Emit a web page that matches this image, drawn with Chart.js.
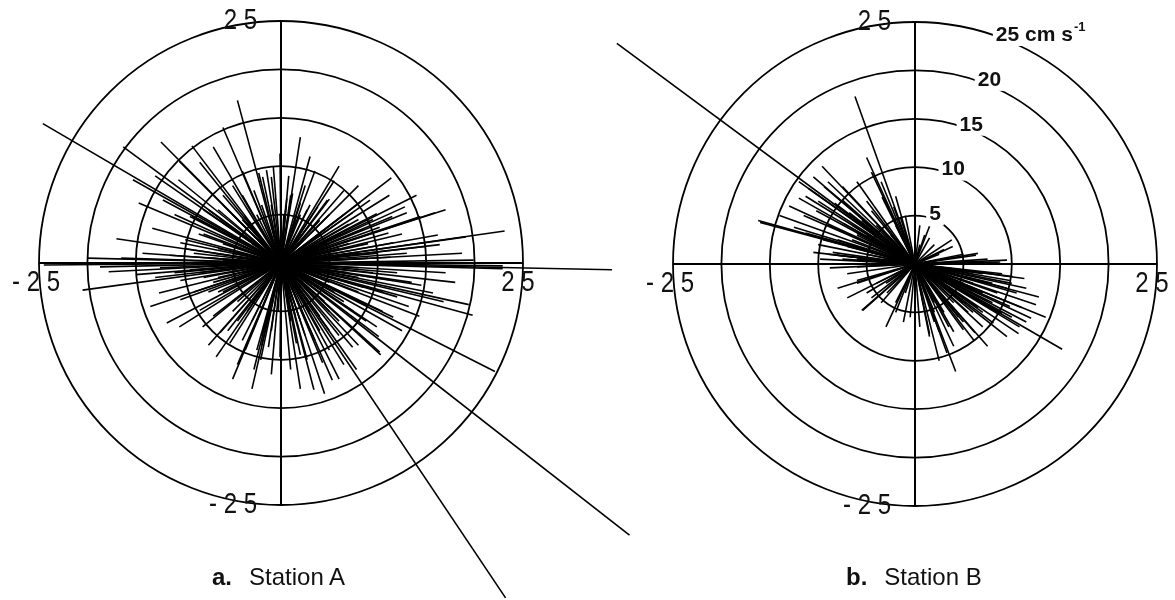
<!DOCTYPE html>
<html>
<head>
<meta charset="utf-8">
<script src="https://cdn.jsdelivr.net/npm/chart.js@4.4.1/dist/chart.umd.min.js"></script>
<style>
  html, body { margin: 0; padding: 0; background: #fff; }
  #wrap { position: relative; width: 1175px; height: 600px; overflow: hidden; }
  canvas { position: absolute; top: 0; }
  #chartA { left: 0; }
  #chartB { left: 590px; }
  .caption { position: absolute; top: 565px; font: 24px "Liberation Sans", Arial, sans-serif; line-height: 24px; color: #111; white-space: nowrap; }
  .caption b { margin-right: 17px; }
</style>
</head>
<body>
<div id="wrap">
  <canvas id="chartA" width="650" height="600"></canvas>
  <canvas id="chartB" width="585" height="600"></canvas>
  <div class="caption" style="left:212px"><b>a.</b>Station A</div>
  <div class="caption" style="left:846px"><b>b.</b>Station B</div>
</div>
<script>
// --- rings and labels ---
const rings = [5, 10, 15, 20, 25];
const ringLabels = ['5', '10', '15', '20', '25'];
const ringUnit = ' cm s';
const ringUnitExp = '-1';
const axisMax = 25;
const axisLabelPos = '2 5';
const axisLabelNeg = '- 2 5';

// --- current vectors [east, north] in cm/s ---
const stationA = [
  [-24.6, 14.4], [34.2, -0.7], [23.2, -34.6], [36.0, -28.1], [22.1, -11.2], [-4.5, 16.8],
  [-16.3, 12.0], [-12.4, 12.5], [-9.2, 12.1], [-8.4, 10.4], [-0.1, 11.3], [11.4, 8.8],
  [11.2, 7.0], [8.2, 6.3], [15.9, 5.2], [23.1, 3.3], [14.4, 4.8], [12.8, 5.8],
  [19.1, 2.7], [16.2, 2.9], [5.0, 6.6], [3.8, 5.8], [1.2, 7.2], [-1.0, 8.9],
  [-1.5, 9.6], [-2.3, 9.3], [9.9, 5.1], [11.5, 4.8], [22.9, -0.3], [22.9, -0.6],
  [18.7, 1.0], [16.4, 1.9], [-14.7, 6.2], [-13.3, 3.6], [-15.3, 8.6], [-14.3, 1.0],
  [-24.5, -0.2], [-18.7, -0.4], [-9.9, 2.4], [-9.2, 4.8], [-10.6, 8.6], [-20.5, -2.8],
  [19.8, -5.4], [19.4, -4.3], [14.3, -5.5], [10.3, -9.5], [10.1, -7.6], [7.8, -11.0],
  [5.3, -12.1], [3.4, -13.1], [0, -8.1], [-6.7, -9.7], [-11.8, -6.2], [-10.5, -6.6],
  [-3.7, -9.0], [-2.1, -10.0], [-12.6, -3.1], [15.7, -3.1], [-12.2, 6.5], [-3.8, 4.8],
  [9.2, 6.5], [13.0, 5.2], [11.1, 3.1], [14.9, 1.7], [19.9, 0.3],
  [-6.3, -7.2], [-8.1, -6.6], [-5.3, -8.3], [-2.5, -9.0], [-1.3, -8.7], [-0.1, -9.7],
  [1.6, -8.3], [2.7, -10.0], [4.3, -10.3], [7.4, -8.7], [10.2, -9.2], [9.9, -6.6],
  [11.6, -5.6], [12.0, -3.5], [11.6, -1.8], [-10.4, -1.8], [-10.4, -3.8], [-8.4, -4.9],
  [-9.4, -0.7], [0.6, 6.7], [2.0, 6.2], [4.8, 6.5], [-1.9, 8.9], [-3.5, 4.1],
  [-6.3, 4.4], [-9.4, 4.8], [-10.4, 2.1], [7.4, 5.2], [10.2, 3.7], [11.6, 2.1],
  [11.3, 0.6], [4.0, 4.4], [2.7, 5.5], [-7.5, -8.5], [-13.5, -4.5], [-16.5, 0.5],
  [-17.8, -0.9], [-12.5, -0.5], [-15.0, -1.2], [14.5, -2.3], [16.8, -4.0], [13.2, -4.5],
  [12.5, -7.0], [8.8, -6.0], [6.5, -10.5],
  [9, 2], [10, 1], [9.5, -1], [8.5, -2.5], [10.5, -3], [9, -4.5], [7.5, -5], [6, -7.5],
  [5, -9], [3.5, -8], [2, -9.5], [1, -11], [-1, -11.5], [-2.8, -11], [-4.5, -10.5],
  [-5.5, -7], [-7, -5.5], [-9, -3], [-8, -1.5], [-11, -1], [-11.5, 0.8], [-10, 1.5],
  [-8.5, 3], [-7.5, 5.5], [-6, 7], [-5, 8], [-4, 9.5], [-2.8, 7.5], [-0.8, 10],
  [0.8, 9], [2.5, 8], [3.5, 9.5], [5.5, 8.5], [6.5, 7.5], [7, 4], [8.5, 3.5],
  [9.5, 4.5], [12.5, 3], [13, 1], [12, -1], [13.5, -2], [6.5, -4], [4, -5.5], [-2, -7.5],
  [-4.5, -6], [-6.5, -3], [-7.5, 0.5], [-6, 2], [1, -6], [3, -7], [-1.2, -5.5],
  [10.5, -5], [8, -8.5], [6, -12], [4.5, -13.5], [2, -13], [-3, -13], [-5, -12],
  [17, -1], [18, -2], [15, 0], [-13, -1.5], [-20, 0.5], [-17, 2.5], [-11, 5], [-13, 9],
  [-7, 12], [-10.5, 10.5], [-6, 14], [3, 11], [2, 13], [6, 10], [8, 8], [14, 7], [17, 5.5],
  [6, 1.5], [7, -2], [6.5, -1], [7.5, 1], [8, -0.5], [5.5, -3], [4.5, -4], [3, -5],
  [1.5, -5.5], [0, -6.5], [-1.5, -6], [-3.5, -5], [-4.5, -4], [-5.5, -1], [-6.5, -1.5],
  [-7, 0], [-6.5, 1.5], [-5.5, 3], [-4, 4.5], [-2.5, 5], [-1, 6], [0.5, 6], [1.5, 4.5],
  [3, 4], [4.5, 2], [5.5, 1], [8, -1.5], [-8.5, -1], [-9, 1], [9, 0.5], [7, -3.5],
  [-7.5, -3], [5, -7], [-4, -8], [2.5, -7.5], [-2, -8.5], [6.5, 5], [-6.5, 5.5],
  [-8, 5.5], [8, 4.5],
  [3, 1], [4, -1], [2, 3], [-3, 2], [-4, -1], [-2, -3], [1, -4], [5, 2], [-5, 1],
  [3, -3], [-3, -4], [2, 5], [-1, 4], [4, 3], [-4, 3], [5, -2], [-5, -2], [6, 0.5],
  [-6, 0.3], [0.3, 5], [-0.3, -5], [2, -6], [-2, 6], [6, 3], [-6, -3], [7, -1], [-7, 1],
  [3, 6], [-3, -6], [7, 2], [-7, -2], [1, 7], [-1, -7], [5, 5], [-5, -5], [5, -5],
  [-5, 5], [8, 1], [-8, 0], [4, -7], [-4, 7], [8, -3], [-8, 3], [6, -6], [-6, 6]
];

const stationB = [
  [-30.8, 22.8], [-6.2, 17.3], [-16.2, 4.5], [-16.0, 4.3], [-9.6, 10.1], [-3.3, 6.9],
  [-8.3, 6.3], [6.5, 1.1], [11.3, -1.5], [12.8, -3.4], [8.8, 0.2], [15.2, -8.8],
  [4.2, -11.1], [1.5, -7.2], [12.0, -5.6], [10.7, -7.2], [6.1, -7.9], [-5.4, -4.8],
  [-8.3, 7.1], [-6.8, 5.3], [-11.3, 3.2], [-8.1, 0.9], [-6.0, -0.3], [-2.2, 5.9],
  [1.5, 3.9], [3.8, 2.5], [6.3, 0.9], [8.6, 0.1], [10.1, -1.3], [-11.3, 7.0],
  [-12.0, 8.5], [-10.5, 9.0], [-11.0, 7.8], [-9.0, 8.5], [-7.5, 8.0], [-7.4, 4.2],
  [-8.5, 1.2], [-8.8, -0.4], [-6.0, -1.7], [-5.5, -4.8], [-3.4, 6.9], [-1.5, 4.8],
  [1.5, 2.7], [3.9, 1.8], [9.5, 0.4], [9.8, -1.7], [9.8, -4.4], [9.0, -5.1],
  [8.1, -6.1], [6.2, -7.1], [5.0, -6.8], [3.3, -9.2], [1.5, -7.5], [-0.5, -5.5],
  [-2.9, -3.0], [-9.4, 8.0], [-7.5, 6.6], [-6.0, 3.2], [-10.2, 5.5], [-12.5, 3.8],
  [-10.0, 2.0], [-7.0, 1.8], [-9.5, 2.5], [7.5, -2.0], [10.5, -3.0], [11.0, -4.5],
  [7.0, -4.0], [12.5, -4.2], [13.5, -5.5], [10.8, -6.5], [9.5, -7.5], [7.5, -8.5],
  [0.5, -6.5], [-1.2, -6.0], [2.0, -5.0],
  [9, -1], [8, -1], [7.5, 0.5], [8.5, -3], [9.5, -2.5], [10, -2], [6.5, -4.5], [5.5, -5],
  [4.5, -5.5], [3.5, -6.5], [2.5, -7], [-2, -5], [-3.5, -4], [-4.5, -3.5], [-7.5, 0.5],
  [-8, 2.5], [-9, 1], [-6.5, 2.5], [-5.5, 4.5], [-4.5, 5.5], [-5, 6.5], [-6.5, 4],
  [-2.5, 3], [-1, 2.5], [0.5, 2], [2.5, 1], [4.5, 0], [6, -1], [11.5, -2.5], [10, -5.5],
  [11.5, -6], [8.5, -5], [7, -6.5], [4, -8.5], [2.5, -10], [0, -8], [-3, -6.5],
  [-7, -3.5], [-8, -2.5], [-9.8, 0.5], [-10.5, 1.2], [-9, 4], [-11.5, 5], [-13, 6],
  [-14, 5], [-12, 6.8], [-10, 6.5], [-6, 8.5], [-4.5, 9.5], [-5, 11], [-3.5, 8.5], [-2, 7],
  [3, 0.5], [4, -1], [5, -2], [6, -3], [7, -1], [5, 1], [2, 2], [-2, 1], [-3, 2],
  [-4, 0], [-5, 1], [-6, 0.5], [-4, -2], [-3, 3], [-2, 4], [1, -3], [2, -4], [3, -5],
  [4, -4], [6, -2], [7, -3], [8, -2], [-7, 2], [-6, 3], [0, -4], [-1, -3], [1, 3],
  [0.5, 4], [-1, 5], [8, -4], [7, -5], [5, -6], [-6, -2], [-7, -1], [-5, -3], [4, -7],
  [2, -6], [-4, 4], [-5, 3], [3, -2], [4, -3], [5, -4], [6, -5], [-3, -2], [-2, -4],
  [0, 3], [3, 1.5], [-3, 0.5]
];

// pixels per cm/s, same on both axes so the rings stay round
const PX = 242 / 25;
const LABEL_ANGLE = 22 * Math.PI / 180;

function narrowText(ctx, text, x, y, align) {
  ctx.save();
  ctx.translate(x, y);
  ctx.scale(0.8, 1);
  ctx.textAlign = align;
  ctx.textBaseline = 'middle';
  ctx.fillText(text, 0, 0);
  ctx.restore();
}

const polarGrid = {
  id: 'polarGrid',
  beforeDatasetsDraw(chart) {
    const { ctx, scales: { x, y } } = chart;
    const ox = x.getPixelForValue(0), oy = y.getPixelForValue(0);
    ctx.save();
    ctx.strokeStyle = '#000';
    ctx.lineWidth = 1.8;
    rings.forEach(r => {
      const rad = x.getPixelForValue(r) - ox;
      ctx.beginPath();
      ctx.arc(ox, oy, rad, 0, Math.PI * 2);
      ctx.stroke();
    });
    ctx.lineWidth = 2;
    ctx.beginPath();
    ctx.moveTo(x.getPixelForValue(-axisMax), oy);
    ctx.lineTo(x.getPixelForValue(axisMax), oy);
    ctx.moveTo(ox, y.getPixelForValue(axisMax));
    ctx.lineTo(ox, y.getPixelForValue(-axisMax));
    ctx.stroke();
    ctx.restore();
  },
  afterDatasetsDraw(chart, args, opts) {
    const { ctx, scales: { x, y } } = chart;
    const ox = x.getPixelForValue(0), oy = y.getPixelForValue(0);
    const left = x.getPixelForValue(-axisMax), right = x.getPixelForValue(axisMax);
    const top = y.getPixelForValue(axisMax), bottom = y.getPixelForValue(-axisMax);
    ctx.save();
    ctx.fillStyle = '#111';
    ctx.font = '30px "Liberation Sans", Arial, sans-serif';
    narrowText(ctx, axisLabelPos, ox - 24, top, 'right');
    narrowText(ctx, axisLabelNeg, ox - 24, bottom, 'right');
    narrowText(ctx, axisLabelNeg, left - 3, oy + 20, 'center');
    narrowText(ctx, axisLabelPos, right - 5, oy + 20, 'center');

    if (opts.ringLabels) {
      ctx.textBaseline = 'middle';
      rings.forEach((r, i) => {
        const rad = x.getPixelForValue(r) - ox + 5;
        const px = ox + rad * Math.sin(LABEL_ANGLE);
        const py = oy - rad * Math.cos(LABEL_ANGLE);
        ctx.font = 'bold 21px "Liberation Sans", Arial, sans-serif';
        const w = ctx.measureText(ringLabels[i]).width;
        let boxW = w + 6;
        let unitW = 0, expW = 0;
        const last = i === rings.length - 1;
        if (last) {
          unitW = ctx.measureText(ringUnit).width;
          ctx.font = 'bold 13px "Liberation Sans", Arial, sans-serif';
          expW = ctx.measureText(ringUnitExp).width;
          boxW += unitW + expW + 2;
        }
        ctx.fillStyle = '#fff';
        ctx.fillRect(px - w / 2 - 3, py - 11, boxW, 22);
        ctx.fillStyle = '#111';
        ctx.font = 'bold 21px "Liberation Sans", Arial, sans-serif';
        ctx.textAlign = 'center';
        ctx.fillText(ringLabels[i], px, py);
        if (last) {
          ctx.textAlign = 'left';
          ctx.fillText(ringUnit, px + w / 2, py);
          ctx.font = 'bold 13px "Liberation Sans", Arial, sans-serif';
          ctx.fillText(ringUnitExp, px + w / 2 + unitW + 1, py - 8);
        }
      });
    }
    ctx.restore();
  }
};

function buildStation(canvasId, vectors, cx, cy, showRingLabels) {
  const canvas = document.getElementById(canvasId);
  const w = canvas.width, h = canvas.height;
  return new Chart(canvas.getContext('2d'), {
    type: 'scatter',
    data: {
      datasets: vectors.map(([u, v]) => ({
        data: [{ x: 0, y: 0 }, { x: u, y: v }],
        showLine: true,
        borderColor: '#000',
        borderWidth: 1.6,
        pointRadius: 0,
        pointHoverRadius: 0,
        fill: false
      }))
    },
    options: {
      responsive: false,
      animation: false,
      devicePixelRatio: 1,
      events: [],
      layout: { padding: 0 },
      plugins: {
        legend: { display: false },
        tooltip: { enabled: false },
        polarGrid: { ringLabels: showRingLabels }
      },
      scales: {
        x: { type: 'linear', display: false, min: -cx / PX, max: (w - cx) / PX },
        y: { type: 'linear', display: false, min: -(h - cy) / PX, max: cy / PX }
      }
    },
    plugins: [polarGrid]
  });
}

// centres are in each canvas's own pixels
buildStation('chartA', stationA, 281, 263, false);
buildStation('chartB', stationB, 325, 264, true);
</script>
</body>
</html>
